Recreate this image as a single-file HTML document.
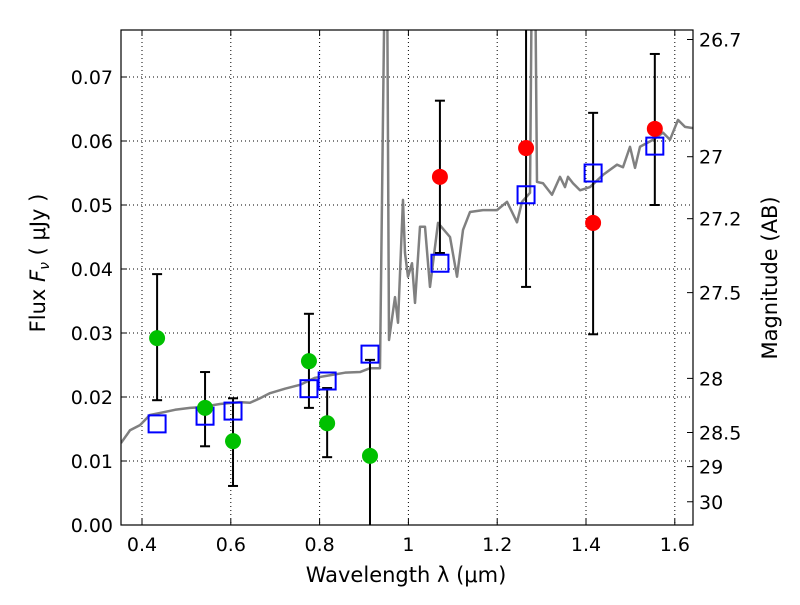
<!DOCTYPE html>
<html><head><meta charset="utf-8"><style>
body{margin:0;background:#fff}
svg text{font-family:"DejaVu Sans","Liberation Sans",sans-serif;fill:#000}
</style></head><body>
<svg id="chart" width="800" height="600" xmlns="http://www.w3.org/2000/svg">
<g id="grid"></g>
<g id="plot"></g>
<g id="axes"></g>
<text x="406" y="582" font-size="21" text-anchor="middle">Wavelength  λ (μm)</text>
<text transform="translate(45,263) rotate(-90)" font-size="21" text-anchor="middle">Flux  <tspan font-style="italic">F</tspan><tspan font-size="14" font-style="italic" dy="4">ν</tspan><tspan dy="-4">  ( μJy )</tspan></text>
<text transform="translate(777,278) rotate(-90)" font-size="21" text-anchor="middle">Magnitude (AB)</text>
</svg>
<script>
const specWl=[0.3527,0.373,0.3955,0.418,0.4405,0.4743,0.508,0.5306,0.5757,0.6207,0.6432,0.6658,0.6883,0.7221,0.7559,0.7896,0.8234,0.8572,0.891,0.9135,0.936,0.9473,0.9518,0.9563,0.9698,0.9766,0.9878,0.9923,0.9991,1.0081,1.0149,1.0261,1.0374,1.0486,1.0667,1.0937,1.1095,1.123,1.1387,1.168,1.1995,1.2221,1.2446,1.2559,1.2739,1.2784,1.2851,1.2896,1.3032,1.3234,1.3414,1.3527,1.3595,1.3707,1.3865,1.409,1.4383,1.4698,1.4833,1.4991,1.5104,1.5216,1.5509,1.5734,1.5892,1.6072,1.623,1.641];
const specFlux=[0.0128,0.0148,0.0156,0.0172,0.0175,0.018,0.0183,0.0184,0.0189,0.0192,0.0191,0.0198,0.0206,0.0213,0.0219,0.023,0.0234,0.0238,0.0239,0.0245,0.0245,0.09,0.09,0.0289,0.0356,0.0316,0.0508,0.0425,0.0388,0.0409,0.0347,0.0466,0.0466,0.0372,0.0472,0.045,0.0388,0.0461,0.0489,0.0492,0.0492,0.0505,0.0473,0.0505,0.0519,0.09,0.09,0.0536,0.0534,0.0516,0.0544,0.0528,0.0544,0.0534,0.0523,0.0528,0.0547,0.0563,0.0559,0.0591,0.0558,0.0591,0.0602,0.0613,0.0602,0.0633,0.0622,0.062];
const greenWl=[0.434,0.542,0.605,0.776,0.817,0.9135];
const greenFlux=[0.0292,0.0183,0.0131,0.0256,0.0159,0.0108];
const greenLo=[0.0195,0.0123,0.0061,0.0183,0.0106,-0.01];
const greenHi=[0.0392,0.0239,0.0198,0.033,0.0214,0.0258];
const redWl=[1.071,1.265,1.416,1.555];
const redFlux=[0.0544,0.0589,0.0472,0.0619];
const redLo=[0.0425,0.0372,0.0298,0.05];
const redHi=[0.0663,0.09,0.0644,0.0736];
const modelWl=[0.434,0.542,0.605,0.776,0.817,0.9135,1.071,1.265,1.416,1.555];
const modelFlux=[0.0158,0.017,0.0178,0.0213,0.0225,0.0267,0.0409,0.0516,0.055,0.0592];
const xTicks=[0.4,0.6,0.8,1.0,1.2,1.4,1.6];
const xTickLabels=["0.4","0.6","0.8","1","1.2","1.4","1.6"];
const yTicks=[0,0.01,0.02,0.03,0.04,0.05,0.06,0.07];
const yTickLabels=["0.00","0.01","0.02","0.03","0.04","0.05","0.06","0.07"];
const magTicks=[26.7,27,27.2,27.5,28,28.5,29,30];
const magTickLabels=["26.7","27","27.2","27.5","28","28.5","29","30"];

const L=121,R=693,T=30,B=525;
const xs=v=>142+(v-0.4)*444;
const ys=v=>525-v*6400;
const magToFlux=m=>Math.pow(10,(23.9-m)/2.5);
const NS="http://www.w3.org/2000/svg";
function mk(p,tag,at){const e=document.createElementNS(NS,tag);for(const k in at)e.setAttribute(k,at[k]);p.appendChild(e);return e;}
const grid=document.getElementById('grid'),plot=document.getElementById('plot'),axes=document.getElementById('axes');
xTicks.forEach((t,i)=>{const x=xs(t);
 const g=mk(grid,'line',{x1:x,x2:x,y1:T,y2:B,stroke:'#000','stroke-width':1,'stroke-dasharray':'1,3'});
 
 
 mk(axes,'line',{x1:x,x2:x,y1:B,y2:B-6,stroke:'#000'});
 mk(axes,'line',{x1:x,x2:x,y1:T,y2:T+6,stroke:'#000'});
 const tx=mk(axes,'text',{x:x,y:B+26,'font-size':19,'text-anchor':'middle'});tx.textContent=xTickLabels[i];
 
 
});
yTicks.forEach((t,i)=>{const y=ys(t);
 const g=mk(grid,'line',{x1:L,x2:R,y1:y,y2:y,stroke:'#000','stroke-width':1,'stroke-dasharray':'1,3'});
 
 
 mk(axes,'line',{x1:L,x2:L+6,y1:y,y2:y,stroke:'#000'});
 const tx=mk(axes,'text',{x:L-8,y:y+7,'font-size':19,'text-anchor':'end'});tx.textContent=yTickLabels[i];
 
 
});
magTicks.forEach((m,i)=>{const y=ys(magToFlux(m));
 mk(axes,'line',{x1:R-6,x2:R,y1:y,y2:y,stroke:'#000'});
 const tx=mk(axes,'text',{x:R+6,y:y+7,'font-size':19});tx.textContent=magTickLabels[i];
 
 
});
const clip=mk(plot,'clipPath',{id:'c'});mk(clip,'rect',{x:L,y:T,width:R-L,height:B-T});
const cg=mk(plot,'g',{'clip-path':'url(#c)'});
const sp=mk(cg,'polyline',{points:specWl.map((w,i)=>xs(w)+','+ys(specFlux[i])).join(' '),fill:'none',stroke:'#808080','stroke-width':2.5,'stroke-linejoin':'round'});


function errs(wl,lo,hi,name){wl.forEach((w,i)=>{const x=xs(w);
 const e=mk(cg,'g',{stroke:'#000','stroke-width':2});
 
 
 mk(e,'line',{x1:x,x2:x,y1:ys(lo[i]),y2:ys(hi[i])});
 mk(e,'line',{x1:x-5,x2:x+5,y1:ys(lo[i]),y2:ys(lo[i])});
 mk(e,'line',{x1:x-5,x2:x+5,y1:ys(hi[i]),y2:ys(hi[i])});
});}
errs(greenWl,greenLo,greenHi,'green-error-bar');
errs(redWl,redLo,redHi,'red-error-bar');
modelWl.forEach((w,i)=>{const r=mk(cg,'rect',{x:xs(w)-8.5,y:ys(modelFlux[i])-8.5,width:17,height:17,fill:'none',stroke:'#0000ff','stroke-width':2});
 
 });
greenWl.forEach((w,i)=>{const c=mk(cg,'circle',{cx:xs(w),cy:ys(greenFlux[i]),r:8,fill:'#00c000'});
 
 });
redWl.forEach((w,i)=>{const c=mk(cg,'circle',{cx:xs(w),cy:ys(redFlux[i]),r:8,fill:'#ff0000'});
 
 });
const fr=mk(axes,'rect',{x:L,y:T,width:R-L,height:B-T,fill:'none',stroke:'#000','stroke-width':1.2});


</script>
</body></html>
